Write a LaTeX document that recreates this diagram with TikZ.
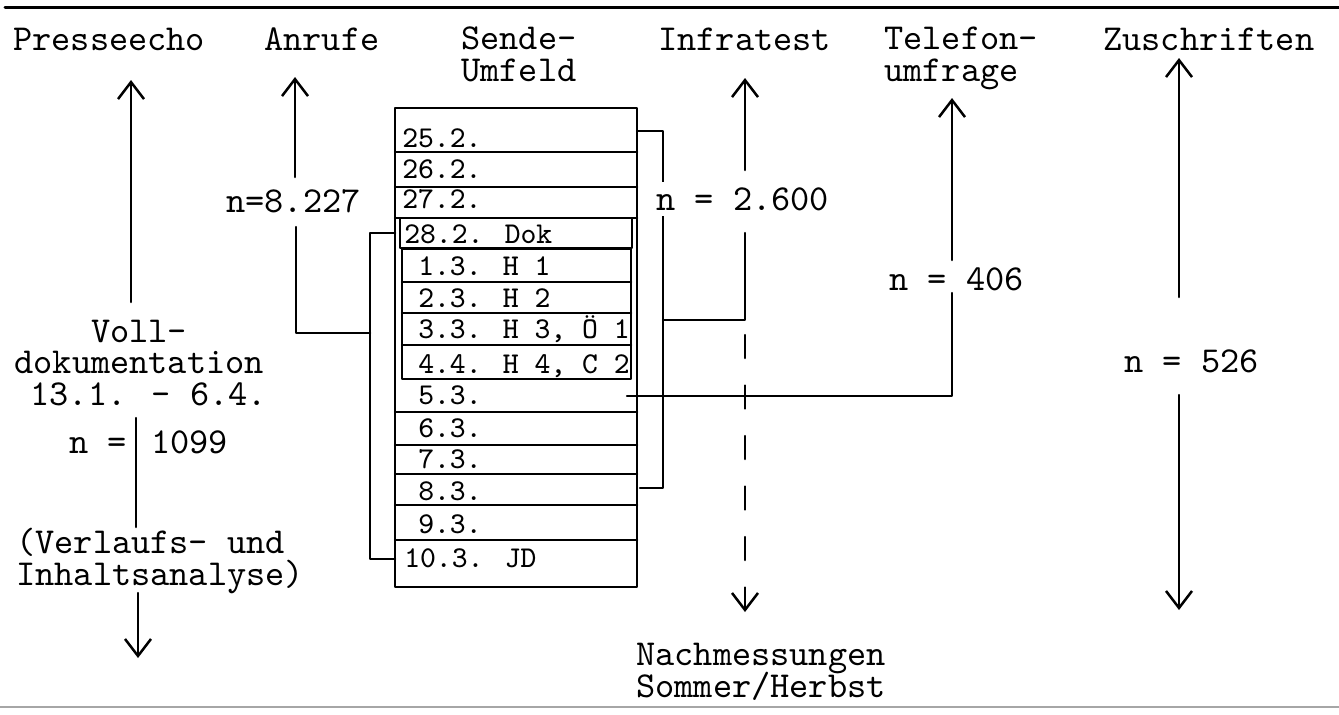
\documentclass[tikz,border=0pt]{standalone}
\usetikzlibrary{arrows.meta}
\newcommand\tttext{\ttfamily\fontsize{10.4}{8.9}\selectfont\lineskiplimit=-20pt\relax}
\newcommand\ttrow{\ttfamily\fontsize{8.6}{10}\selectfont}
\begin{document}
\begin{tikzpicture}[x=0.1mm, y=-0.1mm, >={Straight Barb[length=1.7mm,width=2.6mm]}, line width=0.25mm, line join=round, line cap=round,
		txt/.style={inner sep=0pt, anchor=base west, font=\tttext},
		row/.style={inner sep=0pt, anchor=base west, font=\ttrow}]
			\def\bl{395} \def\br{637}
			\useasboundingbox (0,0) rectangle (1339,714);
			% rules
			\draw[line width=0.3mm] (5,7)--(1339,7);
			\draw[black!35, line width=0.2mm] (0,707)--(1339,707);
			% headings (multi-line nodes sit on their last line)
			\node[txt] (presse) at (12,50) {Presseecho};
			\node[txt] (anrufe) at (263,50) {Anrufe};
			\node[txt, align=left] (sende) at (460,81) {Sende-\\Umfeld};
			\node[txt] (infra) at (657,50) {Infratest};
			\node[txt, align=left] (telefon) at (883,81) {Telefon-\\umfrage};
			\node[txt] (zuschr) at (1102,50) {Zuschriften};
			% broadcast days
			\draw (\bl,108) rectangle (\br,587);
			\draw (\bl,152)--(\br,152) (\bl,187)--(\br,187) (\bl,218)--(\br,218)
				(\bl,412)--(\br,412) (\bl,445)--(\br,445) (\bl,474)--(\br,474) (\bl,505)--(\br,505) (\bl,540)--(\br,540);
			\draw (400,218) rectangle (632,248);
			\draw (402,249) rectangle (631,379);
			\draw (402,282)--(631,282) (402,313)--(631,313) (402,345)--(631,345);
			\node[row] (d1) at (401,147) {25.2.};
			\node[row] (d2) at (401,178) {26.2.};
			\node[row] (d3) at (401,208) {27.2.};
			\node[row] (d4) at (403,243) {28.2. Dok};
			\node[row] (d5) at (417,275) {1.3. H 1};
			\node[row] (d6) at (417,307) {2.3. H 2};
			\node[row] (d7) at (417,338) {3.3. H 3, Ö 1};
			\node[row] (d8) at (417,373) {4.4. H 4, C 2};
			\node[row] (d9) at (417,404) {5.3.};
			\node[row] (d10) at (417,437) {6.3.};
			\node[row] (d11) at (417,468) {7.3.};
			\node[row] (d12) at (417,500) {8.3.};
			\node[row] (d13) at (417,533) {9.3.};
			\node[row] (d14) at (403,567) {10.3. JD};
			% sample sizes and notes
			\node[txt] (n8) at (225,212) {n=8.227};
			\node[txt] (n406) at (888,290) {n = 406};
			\node[txt] (n526) at (1123,372) {n = 526};
			\node[txt, align=center] (voll) at (10,405) {Voll-\\dokumentation\\\hphantom{1}13.1. - 6.4.};
			\node[txt] (neq) at (68,453) {n =};
			\node[txt] (n1099) at (150,453) {1099};
			\node[txt, align=left] (verl) at (15,585) {(Verlaufs- und\\Inhaltsanalyse)};
			\node[txt, align=left] (nach) at (635,697) {Nachmessungen\\Sommer/Herbst};
			% line ends
			\coordinate (pe1) at (131,80); \coordinate (pe2) at (131,302);
			\coordinate (vd1) at (136,418); \coordinate (vd2) at (136,527);
			\coordinate (vd3) at (138,593); \coordinate (vd4) at (138,658);
			\coordinate (an1) at (295,77); \coordinate (an2) at (295,177);
			\coordinate (an3) at (296,227); \coordinate (an4) at (370,333);
			\coordinate (lk1) at (\bl,233); \coordinate (lk2) at (\bl,559);
			\coordinate (rk1) at (\br,131); \coordinate (rk2) at (640,488);
			\coordinate (if1) at (745,78); \coordinate (if2) at (745,170);
			\coordinate (if3) at (745,233); \coordinate (if4) at (663,320);
			\coordinate (if5) at (745,335); \coordinate (if6) at (745,612);
			\coordinate (tf1) at (627,396); \coordinate (tf2) at (952,293);
			\coordinate (tf3) at (952,260); \coordinate (tf4) at (952,98);
			\coordinate (zu1) at (1179,58); \coordinate (zu2) at (1179,297);
			\coordinate (zu3) at (1179,395); \coordinate (zu4) at (1179,610);
			% connectors
			\draw[->] (pe2)--(pe1);
			\draw (vd1)--(vd2);
			\draw[->] (vd3)--(vd4);
			\draw[->] (an2)--(an1);
			\draw (an3) |- (an4);
			\draw (lk1) -- ++(-25,0) |- (lk2);
			\draw (rk1) -- ++(26,0) |- (rk2);
			\draw[->] (if2)--(if1);
			\draw (if3) |- (if4);
			\draw[->, dash pattern=on 2.3mm off 2.75mm] (if5)--(if6);
			\draw (tf1) -| (tf2);
			\draw[->] (tf3)--(tf4);
			\draw[->] (zu2)--(zu1);
			\draw[->] (zu3)--(zu4);
			% label over the bracket
			\node[txt, fill=white, inner ysep=1.5pt] (n26) at (655,210) {n = 2.600};
		\end{tikzpicture}
\end{document}
